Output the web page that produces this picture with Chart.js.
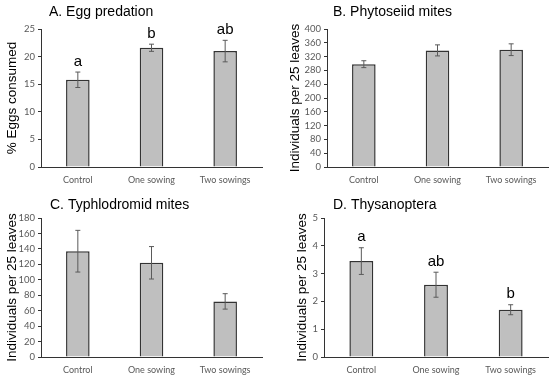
<!DOCTYPE html>
<html>
<head>
<meta charset="utf-8">
<script src="https://cdn.jsdelivr.net/npm/chart.js@4.4.1/dist/chart.umd.min.js"></script>
<style>
  body { margin: 0; background: #fff; }
  .panel { position: absolute; width: 275px; height: 190px; }
</style>
</head>
<body>
<div class="panel" style="left:0;top:0"><canvas id="chartA" width="275" height="190"></canvas></div>
<div class="panel" style="left:275px;top:0"><canvas id="chartB" width="275" height="190"></canvas></div>
<div class="panel" style="left:0;top:190px"><canvas id="chartC" width="275" height="190"></canvas></div>
<div class="panel" style="left:275px;top:190px"><canvas id="chartD" width="275" height="190"></canvas></div>
<script>
const categories = ["Control", "One sowing", "Two sowings"];

const eggMeans = [15.8, 21.6, 21.0];
const eggSE = [1.4, 0.65, 1.95];
const eggLetters = ["a", "b", "ab"];

const phytoMeans = [298, 338, 340];
const phytoSE = [10, 16, 17];

const typhloMeans = [137, 122, 72];
const typhloSE = [27, 21, 10];

const thysMeans = [3.45, 2.6, 1.7];
const thysSE = [0.48, 0.45, 0.18];
const thysLetters = ["a", "ab", "b"];

const tickFont = { family: "Lato", size: 9.5 };
const tickColor = "#595959";

// error bars, significance letters and panel title
const extrasPlugin = {
    id: "extras",
    afterDatasetsDraw(chart, args, opts) {
        const ctx = chart.ctx;
        const yScale = chart.scales.y;
        const meta = chart.getDatasetMeta(0);
        const means = chart.data.datasets[0].data;
        ctx.save();
        meta.data.forEach((bar, i) => {
            const yLo = yScale.getPixelForValue(means[i] - opts.se[i]);
            const yHi = yScale.getPixelForValue(means[i] + opts.se[i]);
            ctx.strokeStyle = "#5a5a5a";
            ctx.lineWidth = 1;
            ctx.beginPath();
            ctx.moveTo(bar.x, yLo);
            ctx.lineTo(bar.x, yHi);
            ctx.moveTo(bar.x - 2.5, yLo);
            ctx.lineTo(bar.x + 2.5, yLo);
            ctx.moveTo(bar.x - 2.5, yHi);
            ctx.lineTo(bar.x + 2.5, yHi);
            ctx.stroke();
            if (opts.letters) {
                ctx.fillStyle = "#000";
                ctx.font = "15px 'Liberation Sans'";
                ctx.textAlign = "center";
                ctx.textBaseline = "bottom";
                ctx.fillText(opts.letters[i], bar.x, yHi - 3);
            }
        });
        ctx.fillStyle = "#000";
        ctx.font = "14px 'Liberation Sans'";
        ctx.textAlign = "left";
        ctx.textBaseline = "middle";
        ctx.fillText(opts.title, chart.chartArea.left + opts.titleDx, opts.titleY);
        ctx.restore();
    }
};

function makePanel(id, means, se, letters, title, yTitle, max, step, box) {
    new Chart(document.getElementById(id), {
        type: "bar",
        data: {
            labels: categories,
            datasets: [{
                data: means,
                backgroundColor: "#bfbfbf",
                borderColor: "#333",
                borderWidth: 1.5,
                barPercentage: 0.32,
                categoryPercentage: 1
            }]
        },
        plugins: [extrasPlugin],
        options: {
            responsive: false,
            animation: false,
            layout: { padding: { left: box.padLeft, right: box.padRight, top: box.top, bottom: 0 } },
            plugins: {
                legend: { display: false },
                tooltip: { enabled: false },
                extras: { se: se, letters: letters, title: title, titleDx: box.titleDx, titleY: box.titleY }
            },
            scales: {
                x: {
                    grid: { display: false, drawTicks: false },
                    border: { color: "#333", width: 1 },
                    ticks: { color: tickColor, font: { family: "Lato", size: 9 }, padding: 8, maxRotation: 0 },
                    afterFit(scale) { scale.height = 190 - box.bottom; }
                },
                y: {
                    min: 0,
                    max: max,
                    grid: { display: true, drawOnChartArea: false, drawTicks: true, tickLength: 3, color: "#333" },
                    border: { color: "#333", width: 1 },
                    ticks: { stepSize: step, autoSkip: false, color: tickColor, font: tickFont, padding: 3 },
                    title: {
                        display: true,
                        text: yTitle,
                        color: "#000",
                        font: { family: "Liberation Sans", size: 13.5 },
                        padding: 0
                    },
                    afterFit(scale) { scale.width = box.left - box.padLeft; }
                }
            }
        }
    });
}

makePanel("chartA", eggMeans, eggSE, eggLetters, "A. Egg predation", "% Eggs consumed", 25, 5,
    { left: 41, padLeft: 4, padRight: 13, top: 29, bottom: 167, titleDx: 8, titleY: 12 });
makePanel("chartB", phytoMeans, phytoSE, null, "B. Phytoseiid mites", "Individuals per 25 leaves", 400, 40,
    { left: 52, padLeft: 12, padRight: 2, top: 29, bottom: 167, titleDx: 6, titleY: 12 });
makePanel("chartC", typhloMeans, typhloSE, null, "C. Typhlodromid mites", "Individuals per 25 leaves", 180, 20,
    { left: 41, padLeft: 4, padRight: 13, top: 28, bottom: 167, titleDx: 9, titleY: 15 });
makePanel("chartD", thysMeans, thysSE, thysLetters, "D. Thysanoptera", "Individuals per 25 leaves", 5, 1,
    { left: 49, padLeft: 19, padRight: 2, top: 28, bottom: 167, titleDx: 9, titleY: 15 });
</script>
</body>
</html>
